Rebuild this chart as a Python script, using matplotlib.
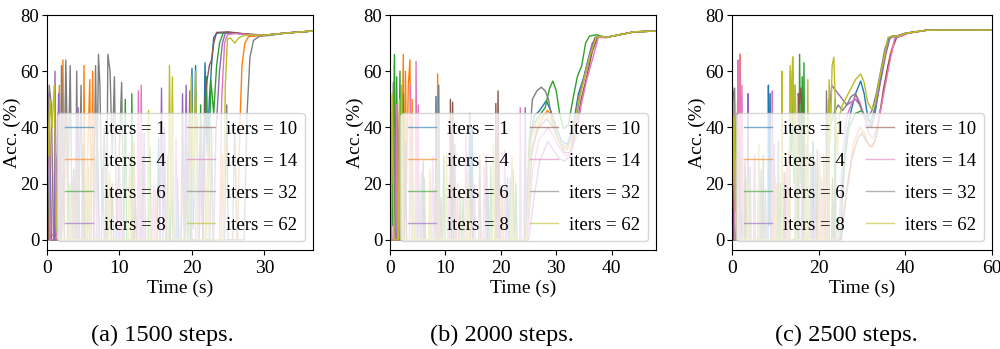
import matplotlib
matplotlib.use("Agg")
import matplotlib.pyplot as plt
import numpy as np

plt.rcParams['font.family'] = ['Liberation Serif', 'DejaVu Serif']

iters = [1, 4, 6, 8, 10, 14, 32, 62]
colors = ['C0', 'C1', 'C2', 'C4', 'C5', 'C6', 'C7', 'C8']
captions = ['(a) 1500 steps.', '(b) 2000 steps.', '(c) 2500 steps.']
xmax = [36.7, 48, 60]
xticks = [[0, 10, 20, 30], [0, 10, 20, 30, 40], [0, 20, 40, 60]]

# ---- (a) 1500 steps: (time s, acc %) ----
a_it1 = [(0,42),(0.2,8),(0.5,0),(1.2,0),(1.4,18),(1.6,0),(3.5,0),(3.7,25),(3.9,0),(6.8,0),(7,32),(7.2,0),(9.5,0),(9.7,14),(9.9,0),(12.5,0),(12.7,28),(12.9,0),(15.2,0),(15.4,36),(15.6,0),(17.8,0),(18,22),(18.2,0),(19.8,0),(20,61),(20.2,4),(20.5,62),(20.8,10),(21.2,42),(21.5,5),(21.8,63),(22.1,30),(22.4,50),(22.7,62),(23,72),(23.4,73.5),(25,73.8),(27,73.2),(30,72.8),(33,73.6),(36.7,74.3)]
a_it4 = [(0,25),(0.3,48),(0.6,2),(1.4,0),(1.7,55),(1.9,0),(2.2,64),(2.4,3),(2.6,58),(2.9,0),(3.8,0),(4,30),(4.2,0),(5,0),(5.1,62),(5.3,0),(5.9,57),(6.1,0),(6.3,60),(6.5,0),(8.5,0),(8.7,22),(8.9,0),(11.8,0),(12,35),(12.2,0),(14.8,0),(15,18),(15.2,0),(18.5,0),(18.7,28),(18.9,0),(21.5,0),(21.7,40),(21.9,0),(24,0),(24.2,30),(24.4,0),(26.3,0),(26.6,40),(26.9,62),(27.3,70),(27.8,72.3),(30,72.8),(33,73.6),(36.7,74.3)]
a_it6 = [(0,35),(0.2,5),(0.4,0),(1,0),(1.2,30),(1.4,0),(2.8,0),(3,20),(3.2,0),(5.5,0),(5.7,26),(5.9,0),(8,0),(8.2,15),(8.4,0),(10.6,0),(10.8,50),(11,0),(11.6,0),(11.7,52),(11.9,0),(14,0),(14.2,33),(14.4,0),(17,0),(17.2,24),(17.4,0),(19.5,0),(19.7,40),(19.9,0),(21,0),(21.2,48),(21.4,5),(22,58),(22.3,20),(22.6,57),(23,45),(23.4,62),(23.8,70),(24.3,73.5),(26,73.6),(28,73),(30,72.8),(33,73.6),(36.7,74.3)]
a_it8 = [(0,20),(0.3,45),(0.6,0),(1,0),(1.1,60),(1.3,2),(1.6,52),(1.8,0),(4.1,0),(4.3,47),(4.5,0),(7.5,0),(7.7,25),(7.9,0),(10,0),(10.2,18),(10.4,0),(13.2,0),(13.4,38),(13.6,0),(15.6,0),(15.8,54),(16,2),(16.2,40),(16.4,0),(18.5,0),(18.7,52),(18.9,5),(19.2,55),(19.4,10),(19.7,53),(20,0),(21,0),(21.3,42),(21.6,0),(23,0),(23.3,38),(23.8,60),(24.2,70),(24.6,73.5),(26,73.5),(28,73),(30,72.8),(33,73.6),(36.7,74.3)]
a_it10 = [(0,30),(0.2,0),(2,0),(2.2,24),(2.4,0),(4.8,0),(5,34),(5.2,0),(8.8,0),(9,20),(9.2,0),(12,0),(12.2,15),(12.4,0),(16.5,0),(16.7,30),(16.9,0),(19,0),(19.2,26),(19.4,0),(21.5,0),(21.8,50),(22.1,57),(22.4,62),(22.7,64),(23,70),(23.4,73.8),(25,74),(27,73.4),(30,72.8),(33,73.6),(36.7,74.3)]
a_it14 = [(0,15),(0.2,52),(0.4,0),(1.3,0),(1.5,45),(1.7,0),(3.3,0),(3.5,22),(3.7,0),(6.5,0),(6.7,30),(6.9,0),(9.8,0),(10,26),(10.2,0),(12.5,0),(12.6,53),(12.8,0),(13,55),(13.2,0),(14.5,0),(14.7,20),(14.9,0),(17.6,0),(17.8,36),(18,0),(20.5,0),(20.7,44),(20.9,0),(22,0),(22.2,30),(22.4,0),(23.8,0),(24.1,50),(24.5,70),(24.9,73),(26,73.4),(28,73),(30,72.8),(33,73.6),(36.7,74.3)]
a_it32 = [(0,10),(0.3,55),(0.6,48),(0.9,0),(1.8,0),(2,62),(2.3,10),(2.6,64),(2.9,20),(3.2,62),(3.5,0),(3.9,0),(4.1,60),(4.3,0),(4.7,55),(4.9,0),(6.4,0),(6.7,62),(6.9,20),(7.1,66),(7.3,55),(7.6,10),(7.9,40),(8.2,0),(8.4,66),(8.7,60),(9,30),(9.3,58),(9.6,5),(10.3,56),(10.6,0),(13,0),(13.2,30),(13.4,0),(16,0),(16.2,25),(16.4,0),(19,0),(19.2,35),(19.4,0),(22.5,0),(22.7,40),(22.9,0),(24.5,0),(24.8,48),(25,0),(25.6,0),(25.9,40),(26.2,0),(27.2,0),(27.6,45),(28,65),(28.5,71),(29.3,72.4),(31,72.8),(33,73.6),(36.7,74.3)]
a_it62 = [(0,52),(0.2,30),(0.4,50),(0.7,40),(1,55),(1.3,5),(1.6,0),(3,0),(3.2,20),(3.4,0),(5.4,0),(5.6,28),(5.8,0),(8.4,0),(8.6,24),(8.8,0),(11.2,0),(11.4,30),(11.6,0),(13.9,0),(14,46),(14.2,0),(16.7,0),(16.9,62),(17.1,10),(17.3,58),(17.5,0),(19.6,0),(19.9,58),(20.2,15),(20.5,60),(20.8,0),(22,0),(22.2,34),(22.4,0),(24.3,0),(24.6,55),(24.9,71.5),(25.3,71.8),(25.9,70),(26.5,72),(27.3,72.8),(30,72.8),(33,73.6),(36.7,74.3)]

# ---- (b) 2000 steps ----
b_it1 = [(0,55),(0.3,10),(0.6,45),(1,0),(1.8,0),(2,30),(2.2,0),(5,0),(5.2,20),(5.4,0),(8.2,0),(8.3,51),(8.5,0),(11,0),(11.2,25),(11.4,0),(14.2,0),(14.4,45),(14.6,5),(14.8,40),(15,0),(17.5,0),(17.7,18),(17.9,0),(21,0),(21.2,22),(21.4,0),(24.5,0),(25.3,35),(26,44),(27,46),(28.2,49.5),(29,46),(30,40),(31,35),(32,34),(33,40),(34,52),(35,58),(36,66),(37,72),(38,72.5),(39,72),(41,72.8),(44,74),(48,74.3)]
b_it4 = [(0,40),(0.3,0),(1.5,0),(1.7,45),(1.9,0),(2.4,66),(2.6,5),(2.8,60),(3,20),(3.3,55),(3.6,64),(3.8,10),(4,50),(4.2,0),(7,0),(7.2,25),(7.4,0),(8.5,0),(8.6,59),(8.8,0),(12,0),(12.2,20),(12.4,0),(16,0),(16.2,30),(16.4,0),(20,0),(20.2,18),(20.4,0),(24.6,0),(25.5,30),(26.5,40),(28.4,46),(29.2,44),(30,38),(31,33),(32,32),(33,37),(34,50),(35,57),(36,65),(37.2,72),(38,72.5),(39,72),(41,72.8),(44,74),(48,74.3)]
b_it6 = [(0,45),(0.4,5),(0.8,66),(1,10),(1.2,58),(1.5,5),(1.8,60),(2,0),(2.4,52),(2.6,0),(6,0),(6.2,22),(6.4,0),(9.5,0),(9.7,30),(9.9,0),(13,0),(13.2,15),(13.4,0),(18,0),(18.2,26),(18.4,0),(22.5,0),(22.7,20),(22.9,0),(24.4,0),(25.2,38),(26.5,43),(28,47),(28.8,54),(29.4,56.5),(30,53),(30.6,45),(31.3,39.5),(32.2,41),(33,50),(33.8,58),(34.6,62),(35.3,70),(36,72.5),(37.3,73),(38.6,72),(41,72.8),(44,74),(48,74.3)]
b_it8 = [(0,30),(0.3,0),(1.2,0),(1.4,40),(1.6,0),(4.5,0),(4.7,25),(4.9,0),(7.8,0),(8,18),(8.2,0),(11.5,0),(11.7,34),(11.9,0),(15,0),(15.2,20),(15.4,0),(19.5,0),(19.7,28),(19.9,0),(24.2,0),(24.4,47),(24.6,0),(25,0),(26,15),(27,28),(28.5,35),(29.5,32),(30.5,29),(31.5,28),(32.5,30),(33.5,42),(34.5,54),(35.5,62),(36.5,70),(37.5,72.3),(39,72),(41,72.8),(44,74),(48,74.3)]
b_it10 = [(0,20),(0.2,0),(2.6,0),(2.8,35),(3,0),(5.8,0),(6,28),(6.2,0),(9,0),(9.2,15),(9.4,0),(10.8,0),(10.9,50),(11.1,0),(11.3,49),(11.5,0),(14.5,0),(14.7,24),(14.9,0),(17.2,0),(17.4,30),(17.6,0),(19,0),(19.1,48.5),(19.3,0),(19.5,53),(19.7,0),(22,0),(22.2,25),(22.4,0),(24.7,0),(25.6,32),(26.8,40),(28.3,43),(29.5,40),(30.5,35),(31.5,31),(32.5,31),(33.5,38),(34.5,50),(35.5,58),(36.5,67),(37.5,72.3),(39,72),(41,72.8),(44,74),(48,74.3)]
b_it14 = [(0,50),(0.3,0),(1,0),(1.2,48),(1.4,0),(3.5,0),(3.7,55),(3.9,0),(4.6,0),(4.7,63.5),(4.9,10),(5.1,48),(5.3,0),(7.5,0),(7.7,30),(7.9,0),(10.5,0),(10.7,22),(10.9,0),(13.5,0),(13.7,38),(13.9,0),(16.8,0),(17,26),(17.2,0),(20.5,0),(20.7,32),(20.9,0),(23.4,0),(23.5,47),(23.7,0),(24.8,0),(25.8,26),(27,36),(28.5,40),(29.5,37),(30.5,33),(31.5,30),(32.5,30),(33.5,36),(34.5,48),(35.5,57),(36.5,64),(37.6,72),(39,72),(41,72.8),(44,74),(48,74.3)]
b_it32 = [(0,60),(0.3,20),(0.6,56),(0.9,0),(2,0),(2.2,20),(2.4,0),(5.5,0),(5.7,24),(5.9,0),(8.6,0),(8.8,55),(9,0),(12.5,0),(12.7,18),(12.9,0),(16,0),(16.2,28),(16.4,0),(21.5,0),(21.7,22),(21.9,0),(24.5,0),(25,20),(25.3,40),(25.7,50),(26.5,53),(27.3,54.3),(28,53),(28.6,50),(29.3,42),(30,37),(31,34),(32,33),(33,38),(34,50),(35,57),(36,65),(37,72),(38,72.5),(39,72),(41,72.8),(44,74),(48,74.3)]
b_it62 = [(0,58),(0.2,10),(0.4,52),(0.7,0),(1.5,0),(1.7,50),(1.9,5),(2.1,55),(2.3,0),(4,0),(4.2,22),(4.4,0),(7,0),(7.2,16),(7.4,0),(10,0),(10.2,30),(10.4,0),(13.8,0),(14,24),(14.2,0),(18.5,0),(18.7,34),(18.9,0),(21.8,0),(22,30),(22.2,0),(24.6,0),(25.5,36),(26.5,42),(28,45),(29,43),(30,38),(31,33),(32,32.5),(33,37),(34,49),(35,57),(36,65),(37.2,72),(38,72.5),(39,72),(41,72.8),(44,74),(48,74.3)]

# ---- (c) 2500 steps ----
c_it1 = [(0,45),(0.3,0),(2,0),(2.2,20),(2.4,0),(5,0),(5.2,30),(5.4,0),(8.3,0),(8.4,55),(8.6,5),(8.8,52),(9,0),(11.5,0),(11.7,24),(11.9,0),(15,0),(15.2,18),(15.4,0),(18.5,0),(18.7,35),(18.9,0),(22,0),(22.2,26),(22.4,0),(24.5,0),(25.5,22),(26.5,38),(27.5,46),(28.5,52),(29.7,56.5),(30.5,52),(31.3,44),(32.2,40),(33,45),(34,55),(35,63),(36,71),(37,72.5),(38.5,72.5),(40,73.5),(45,74.6),(60,74.7)]
c_it4 = [(0,35),(0.3,0),(1,0),(1.3,50),(1.6,20),(1.9,66),(2.1,10),(2.3,40),(2.6,0),(6,0),(6.2,28),(6.4,0),(10,0),(10.2,20),(10.4,0),(13,0),(13.2,32),(13.4,0),(17,0),(17.2,22),(17.4,0),(21,0),(21.2,30),(21.4,0),(24.8,0),(26,12),(27,22),(28,34),(29.5,40),(30.5,38),(31.5,34),(32.5,33),(33.5,38),(34.5,48),(35.5,57),(36.5,66),(37.8,72.3),(39,72.5),(40.5,73.5),(45,74.6),(60,74.7)]
c_it6 = [(0,30),(0.4,5),(0.8,0),(1.2,3),(1.5,0),(3,0),(3.2,22),(3.4,0),(7,0),(7.2,30),(7.4,0),(11,0),(11.2,20),(11.4,0),(13.3,0),(13.5,60),(13.8,30),(14,65),(14.3,20),(14.6,55),(14.9,0),(15.4,0),(15.6,66),(15.9,20),(16.2,58),(16.4,10),(16.6,63),(16.9,0),(20,0),(20.2,26),(20.4,0),(23.6,0),(23.8,50),(24,0),(25,0),(26,28),(27,40),(28.5,45),(30,46),(31,43),(32,42),(33,47),(34,56),(35,64),(36,71.5),(37,72.5),(38.5,72.5),(40,73.5),(45,74.6),(60,74.7)]
c_it8 = [(0,20),(0.3,0),(1.5,0),(1.7,38),(1.9,0),(3.6,0),(3.7,52),(3.9,0),(6.5,0),(6.7,25),(6.9,0),(9.5,0),(9.7,34),(9.9,0),(12.5,0),(12.7,18),(12.9,0),(16,0),(16.2,40),(16.4,0),(19,0),(19.2,28),(19.4,0),(22.3,0),(22.5,45),(23,55),(23.5,54),(24.5,52),(25.5,50),(26.5,48),(27.5,49),(28.5,50),(29.5,48),(30.5,44),(31.5,40),(32.5,42),(33.5,50),(34.5,58),(35.5,66),(36.5,72),(38,72.5),(40,73.5),(45,74.6),(60,74.7)]
c_it10 = [(0,25),(0.3,0),(2.8,0),(3,28),(3.2,0),(6,0),(6.2,20),(6.4,0),(9,0),(9.2,30),(9.4,0),(12,0),(12.2,24),(12.4,0),(15.1,0),(15.3,52),(15.6,48),(15.9,54),(16.2,45),(16.5,0),(19.5,0),(19.7,32),(19.9,0),(23,0),(23.2,22),(23.4,0),(25.2,0),(26.5,18),(27.5,28),(29,36),(30,38),(31,35),(32,33),(33,35),(34,44),(35,54),(36,62),(37,68),(38,72),(39,72.5),(40.5,73.5),(45,74.6),(60,74.7)]
c_it14 = [(0,20),(0.4,50),(0.7,0),(1.2,0),(1.4,64),(1.6,40),(1.8,66),(2,30),(2.3,55),(2.6,0),(5,0),(5.2,30),(5.4,0),(9.2,0),(9.3,53),(9.5,0),(12.5,0),(12.7,26),(12.9,0),(17,0),(17.2,34),(17.4,0),(20.5,0),(20.7,22),(20.9,0),(24.6,0),(25.5,30),(26.5,44),(27.5,48),(28.6,51.5),(29.5,49),(30.5,44),(31.5,38),(32.5,36),(33.5,40),(34.5,48),(35.5,56),(36.5,64),(37.6,72),(39,72.5),(40.5,73.5),(45,74.6),(60,74.7)]
c_it32 = [(0,57),(0.3,50),(0.6,54),(0.9,20),(1.2,45),(1.5,0),(4,0),(4.2,26),(4.4,0),(7.5,0),(7.7,18),(7.9,0),(10.5,0),(10.7,35),(10.9,0),(14.5,0),(14.7,24),(14.9,0),(18,0),(18.2,30),(18.4,0),(21.6,0),(21.8,53),(22,20),(22.3,50),(22.6,40),(23.5,45),(24.5,48),(25.5,46),(26.5,48),(27.5,51),(28.5,52),(29.5,48),(30.5,44),(31.5,44),(32.3,46),(33.3,52),(34.3,60),(35.3,68),(36.2,72),(38,72.5),(40,73.5),(45,74.6),(60,74.7)]
c_it62 = [(0,48),(0.2,20),(0.5,44),(0.8,10),(1.1,40),(1.4,0),(3.5,0),(3.7,20),(3.9,0),(6,0),(6.2,34),(6.4,0),(9.8,0),(10,22),(10.2,0),(11.4,0),(11.5,60),(11.7,0),(13.2,0),(13.4,62),(13.7,40),(14,65),(14.3,30),(14.6,55),(14.9,0),(17.3,0),(17.5,57),(17.7,0),(20,0),(20.2,30),(20.4,0),(22.2,0),(22.4,57),(22.7,35),(23.1,62),(23.5,65),(23.9,45),(24.3,30),(24.8,44),(25.5,48),(26.5,51),(27.5,54),(28.5,57),(29.7,59),(30.5,56),(31.3,49),(32.2,46.5),(33,48),(34,57),(35,64),(36,72),(37,72.5),(38.5,72.5),(40,73.5),(45,74.6),(60,74.7)]

panels = [
    [a_it1, a_it4, a_it6, a_it8, a_it10, a_it14, a_it32, a_it62],
    [b_it1, b_it4, b_it6, b_it8, b_it10, b_it14, b_it32, b_it62],
    [c_it1, c_it4, c_it6, c_it8, c_it10, c_it14, c_it32, c_it62],
]

fig = plt.figure(figsize=(10, 3.49), dpi=100)
lefts = [0.047, 0.390, 0.732]
widths = [0.266, 0.266, 0.260]
cap_x = [0.162, 0.502, 0.846]

for k, series in enumerate(panels):
    ax = fig.add_axes((lefts[k], 0.284, widths[k], 0.673))
    for pts, it, col in zip(series, iters, colors):
        arr = np.array(pts)
        ax.plot(arr[:, 0], arr[:, 1], color=col, lw=1.0, label='iters = %d' % it)
    ax.set_xlim(0, xmax[k])
    ax.set_ylim(-3.6, 80)
    ax.set_xticks(xticks[k])
    ax.set_yticks([0, 20, 40, 60, 80])
    ax.tick_params(axis='x', labelsize=14, pad=3.5)
    ax.tick_params(axis='y', labelsize=13.5, pad=2)
    ax.set_xlabel('Time (s)', fontsize=14, labelpad=2.5)
    ax.set_ylabel('Acc. (%)', fontsize=14, labelpad=0)
    leg = ax.legend(ncol=2, loc='lower right', fontsize=13.5, framealpha=0.8,
                    handlelength=1.5, handletextpad=0.6, columnspacing=1.1,
                    labelspacing=0.8, borderaxespad=0.45)
    for ln in leg.get_lines():
        ln.set_alpha(0.6)
    fig.text(cap_x[k], 0.04, captions[k], ha='center', va='center', fontsize=17.5)

fig.savefig('out.png', dpi=100)
